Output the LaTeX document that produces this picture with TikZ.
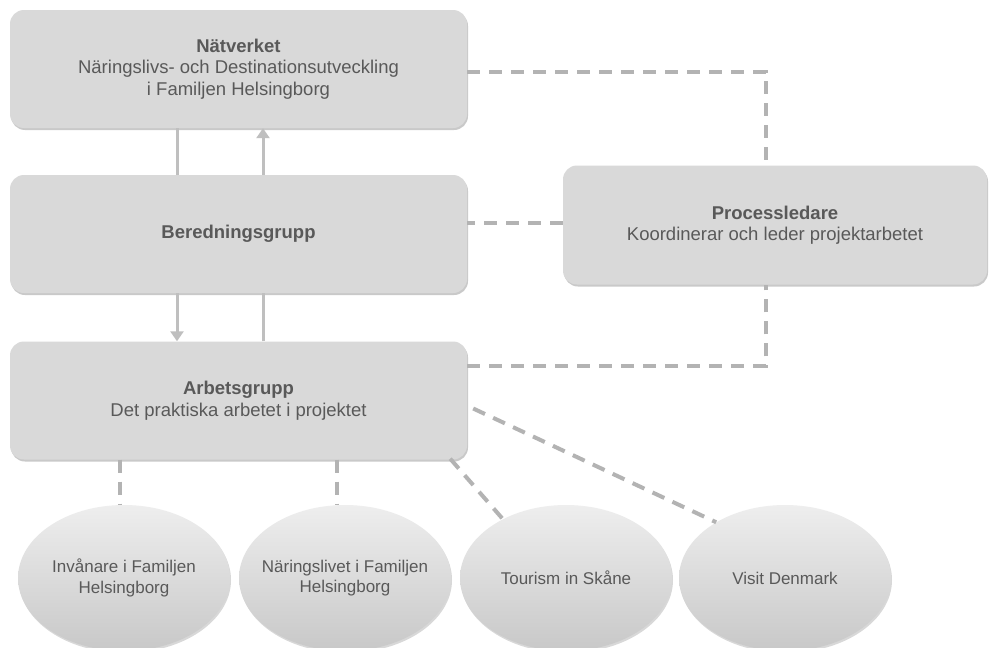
\documentclass[tikz,border=0pt]{standalone}
\usepackage{fontspec}
\setmainfont{Liberation Sans}
\usetikzlibrary{shapes.geometric,shadows,arrows.meta}
\definecolor{boxfill}{HTML}{D9D9D9}
\definecolor{txt}{HTML}{595959}
\definecolor{dashc}{HTML}{B3B3B3}
\definecolor{arrc}{HTML}{BFBFBF}
\definecolor{elltop}{HTML}{EEEEEE}
\definecolor{ellbot}{HTML}{C8C8C8}
\tikzset{
  rbox/.style={rectangle, rounded corners=14pt, fill=boxfill, draw=none,
    minimum width=457pt, minimum height=118pt, align=center, text=txt,
    font=\fontsize{18.5}{21.5}\selectfont,
    drop shadow={shadow xshift=1pt, shadow yshift=-2pt, opacity=0.35, fill=black!60}},
  oval/.style={ellipse, draw=none, top color=elltop, bottom color=ellbot,
    minimum width=212pt, minimum height=146pt, inner sep=0pt,
    drop shadow={shadow xshift=1pt, shadow yshift=-2pt, opacity=0.25, fill=black!60}},
  ovaltext/.style={align=center, text=txt, inner sep=0pt,
    font=\fontsize{17}{20.5}\selectfont},
  dashline/.style={draw=dashc, line width=4pt, dash pattern=on 13pt off 9pt},
  solidline/.style={draw=arrc, line width=3pt},
  arrline/.style={solidline, -{Triangle[width=13pt,length=10pt]}}
}
\begin{document}
\begin{tikzpicture}[x=1pt,y=-1pt]
\useasboundingbox (0,0) rectangle (989,648);
\clip (0,0) rectangle (989,648);
\fill[white] (0,0) rectangle (989,648);

\node[rbox] (n1) at (238.5,69) {\textbf{Nätverket}\\Näringslivs- och Destinationsutveckling\\i Familjen Helsingborg};
\node[rbox] (bered) at (238.5,234) {\textbf{Beredningsgrupp}};
\node[rbox, minimum width=424pt, minimum height=119pt] (proc) at (775,225) {\textbf{Processledare}\\Koordinerar och leder projektarbetet};
\node[rbox] (arb) at (238.5,400.5) {\textbf{Arbetsgrupp}\\Det praktiska arbetet i projektet};

\node[oval] (e1) at (124,578) {};
\node[oval] (e2) at (345,578) {};
\node[oval] (e3) at (566,578) {};
\node[oval] (e4) at (785,578) {};
\node[ovaltext] (t1) at (e1.center) {Invånare i Familjen\\Helsingborg};
\node[ovaltext] (t2) at (e2.center) {Näringslivet i Familjen\\Helsingborg};
\node[ovaltext] (t3) at (e3.center) {Tourism in Skåne};
\node[ovaltext] (t4) at (e4.center) {Visit Denmark};

% solid connectors
\draw[solidline] (177,0 |- bered.north) -- (177,0 |- n1.south);
\draw[arrline] (263,0 |- bered.north) -- (263,0 |- n1.south);
\draw[arrline] (177,0 |- bered.south) -- (177,0 |- arb.north);
\draw[solidline] (263,0 |- arb.north) -- (263,0 |- bered.south);

% dashed connectors to Processledare
\draw[dashline] ([yshift=-3pt]n1.east) -| ([xshift=-9pt]proc.north);
\draw[dashline] ([yshift=2pt]proc.west) -- ([yshift=2pt]proc.west -| bered.east);
\draw[dashline] ([yshift=35pt]arb.east) -| ([xshift=-9pt]proc.south);

% dashed connectors to ovals
\draw[dashline] (120,0 |- arb.south) -- (120,0 |- e1.north);
\draw[dashline] (337,0 |- arb.south) -- (337,0 |- e2.north);
\draw[dashline] ([shift={(-17pt,1pt)}]arb.south east) -- (e3.137);
\draw[dashline] ([shift={(6pt,-8pt)}]arb.east) -- (e4.141);
\end{tikzpicture}
\end{document}
